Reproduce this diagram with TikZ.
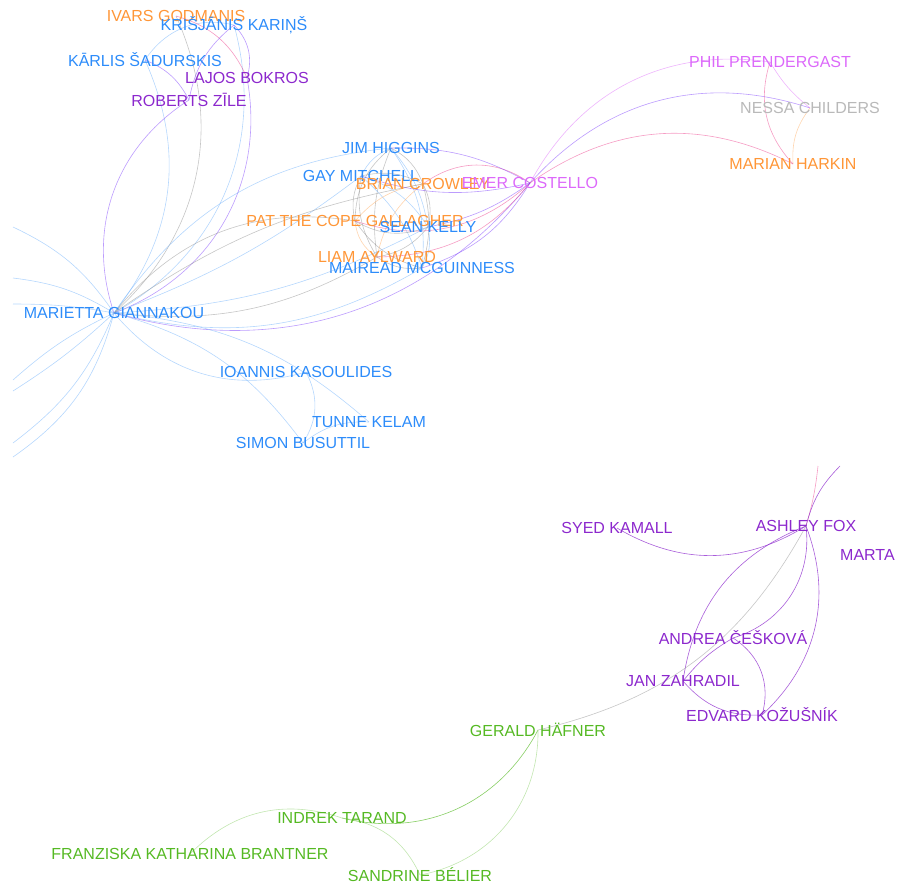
\documentclass[tikz,border=0pt]{standalone}
\usepackage{fontspec}
\setmainfont{Liberation Sans}
\pgfdeclarelayer{links}
\pgfsetlayers{links,main}

\definecolor{mepblue}{RGB}{45,140,250}
\definecolor{meporange}{RGB}{255,150,55}
\definecolor{meppurple}{RGB}{140,40,205}
\definecolor{mepviolet}{RGB}{220,105,250}
\definecolor{mepgray}{RGB}{185,185,185}
\definecolor{mepgreen}{RGB}{85,185,35}

\tikzset{
  mep/.style={inner sep=0pt, font=\fontsize{16}{18}\selectfont},
  bl/.style={mep, text=mepblue},
  or/.style={mep, text=meporange},
  pu/.style={mep, text=meppurple},
  vi/.style={mep, text=mepviolet},
  gr/.style={mep, text=mepgray},
  gn/.style={mep, text=mepgreen},
  link/.style={line width=0.6pt, opacity=0.5},
  lblue/.style={link, draw=mepblue!70},
  lgray/.style={link, draw=black!45},
  lorange/.style={link, draw=meporange!80},
  lpink/.style={link, draw=red!45!mepviolet},
  llav/.style={link, draw=blue!45!mepviolet},
  lviolet/.style={link, draw=mepviolet},
  lpurple/.style={link, draw=meppurple, opacity=0.75},
  lgreen/.style={link, draw=mepgreen, opacity=0.7},
  lgreenl/.style={link, draw=mepgreen!60, opacity=0.6}
}

\begin{document}
\begin{tikzpicture}[x=1pt, y=-1pt]
\useasboundingbox (0,0) rectangle (897,884);

\node[or] (ig) at (176,16) {IVARS GODMANIS};
\node[bl] (kk) at (234,25) {KRIŠJĀNIS KARIŅŠ};
\node[bl] (ks) at (145,60) {KĀRLIS ŠADURSKIS};
\node[pu] (lb) at (247,78) {LAJOS BOKROS};
\node[pu] (rz) at (189,100) {ROBERTS ZĪLE};

\node[bl] (jh) at (391,148) {JIM HIGGINS};
\node[bl] (gm) at (361,176) {GAY MITCHELL};
\node[or] (bc) at (423,184) {BRIAN CROWLEY};
\node[vi] (ec) at (530,183) {EMER COSTELLO};
\node[or] (pg) at (355,221) {PAT THE COPE GALLAGHER};
\node[bl] (sk) at (428,227) {SEAN KELLY};
\node[or] (la) at (377,257) {LIAM AYLWARD};
\node[bl] (mm) at (422,268) {MAIREAD MCGUINNESS};

\node[bl] (mg) at (114,313) {MARIETTA GIANNAKOU};
\node[bl] (ik) at (306,372) {IOANNIS KASOULIDES};
\node[bl] (tk) at (369,422) {TUNNE KELAM};
\node[bl] (sb) at (303,443) {SIMON BUSUTTIL};

\node[vi] (pp) at (770,62) {PHIL PRENDERGAST};
\node[gr] (nc) at (810,108) {NESSA CHILDERS};
\node[or] (mh) at (793,164) {MARIAN HARKIN};

\node[pu] (sy) at (617,528) {SYED KAMALL};
\node[pu] (af) at (806,526) {ASHLEY FOX};
\node[pu, anchor=west] (ma) at (840,555) {MARTA};
\node[pu] (ac) at (733,638) {ANDREA ČEŠKOVÁ};
\node[pu] (jz) at (683,681) {JAN ZAHRADIL};
\node[pu] (ek) at (762,715) {EDVARD KOŽUŠNÍK};

\node[gn] (gh) at (538,730) {GERALD HÄFNER};
\node[gn] (it) at (342,818) {INDREK TARAND};
\node[gn] (fb) at (190,854) {FRANZISKA KATHARINA BRANTNER};
\node[gn] (sbe) at (420,875) {SANDRINE BÉLIER};

\coordinate (w1) at (13,227);
\coordinate (w2) at (13,278);
\coordinate (w3) at (13,304);
\coordinate (w4) at (13,380);
\coordinate (w5) at (13,391);
\coordinate (w6) at (13,443);
\coordinate (w7) at (13,457);
\coordinate (up1) at (818,466);
\coordinate (up2) at (840,466);

\begin{pgfonlayer}{links}
% latvian corner
\draw[lblue] (mg.center) to[bend right=31] (ks.center);
\draw[llav] (mg.center) to[bend left=38] (rz.center);
\draw[lgray] (mg.center) to[bend right=36] (ig.center);
\draw[lblue] (mg.center) to[bend right=38] (kk.center);
\draw[llav] (mg.center) to[bend right=40] (lb.center);
\draw[lblue] (ks.center) to[bend left=35] (kk.center);
\draw[lpink] (ig.center) to[bend left=25] (lb.center);
\draw[llav] (ks.center) to[bend left=20] (rz.center);
\draw[llav] (kk.center) to[bend left=30] (lb.center);
\draw[llav] (kk.center) to[bend right=20] (rz.center);

% off the left side
\draw[lblue] (mg.center) to[bend right=15] (w1);
\draw[lblue] (mg.center) to[bend right=12] (w2);
\draw[lblue] (mg.center) to[bend right=5] (w3);
\draw[lblue] (mg.center) to[bend right=8] (w4);
\draw[lblue] (mg.center) to[bend left=5] (w5);
\draw[lblue] (mg.center) to[bend left=15] (w6);
\draw[lblue] (mg.center) to[bend left=20] (w7);

% irish group
\draw[lblue] (jh.center) to[bend right=20] (gm.center);
\draw[lgray] (jh.center) to[bend left=20] (bc.center);
\draw[lgray] (jh.center) to[bend right=25] (pg.center);
\draw[lblue] (jh.center) to[bend left=15] (sk.center);
\draw[lgray] (jh.center) to[bend right=15] (la.center);
\draw[lblue] (jh.center) to[bend left=20] (mm.center);
\draw[lgray] (gm.center) to[bend left=20] (bc.center);
\draw[lgray] (gm.center) to[bend right=20] (pg.center);
\draw[lblue] (gm.center) to[bend left=20] (sk.center);
\draw[lgray] (gm.center) to[bend right=20] (la.center);
\draw[lblue] (gm.center) to[bend left=15] (mm.center);
\draw[lorange] (bc.center) to[bend right=20] (pg.center);
\draw[lgray] (bc.center) to[bend left=20] (sk.center);
\draw[lorange] (bc.center) to[bend right=20] (la.center);
\draw[lgray] (bc.center) to[bend left=15] (mm.center);
\draw[lgray] (pg.center) to[bend right=25] (sk.center);
\draw[lorange] (pg.center) to[bend right=25] (la.center);
\draw[lgray] (pg.center) to[bend right=20] (mm.center);
\draw[lgray] (sk.center) to[bend left=20] (la.center);
\draw[lblue] (sk.center) to[bend left=20] (mm.center);
\draw[lgray] (la.center) to[bend right=20] (mm.center);

\draw[lgray] (mg.center) to[bend left=30] (pg.center);
\draw[lblue] (mg.center) to[bend left=25] (jh.center);
\draw[lblue] (mg.center) to[bend right=8] (gm.center);
\draw[lgray] (mg.center) to[bend left=12] (bc.center);
\draw[lblue] (mg.center) to[bend right=12] (sk.center);
\draw[lgray] (mg.center) to[bend right=18] (la.center);
\draw[lblue] (mg.center) to[bend right=22] (mm.center);
\draw[llav] (mg.center) to[bend right=33] (ec.center);

\draw[lpink] (bc.center) to[bend left=36] (ec.center);
\draw[lpink] (ec.center) to[bend left=30] (pg.center);
\draw[llav] (ec.center) to[bend left=15] (gm.center);
\draw[lpink] (ec.center) to[bend left=25] (la.center);
\draw[llav] (ec.center) to[bend left=20] (mm.center);
\draw[llav] (ec.center) to[bend left=12] (sk.center);
\draw[llav] (ec.center) to[bend right=15] (jh.center);

\draw[lviolet] (ec.center) to[bend left=35] (pp.center);
\draw[llav] (ec.center) to[bend left=33] (nc.center);
\draw[lpink] (ec.center) to[bend left=31] (mh.center);
\draw[lpink] (pp.center) to[bend right=30] (mh.center);
\draw[lviolet] (pp.center) to[bend right=10] (nc.center);
\draw[lorange] (nc.center) to[bend right=20] (mh.center);

% cyprus, estonia, malta
\draw[lblue] (mg.center) to[bend right=33] (ik.center);
\draw[lblue] (mg.center) to[bend left=19] (sb.center);
\draw[lblue] (mg.center) to[bend left=18] (tk.center);
\draw[lblue] (ik.center) to[bend left=30] (sb.center);
\draw[lblue] (sb.center) to[bend left=20] (tk.center);

% ecr
\draw[lpurple] (sy.center) to[bend right=31] (af.center);
\draw[lpurple] (af.center) to[bend right=30] (jz.center);
\draw[lpurple] (af.center) to[bend left=40] (ac.center);
\draw[lpurple] (af.center) to[bend left=34] (ek.center);
\draw[lpurple] (ac.center) to[bend left=37] (ek.center);
\draw[lpurple] (jz.center) to[bend right=26] (ek.center);
\draw[lpurple] (ac.center) to[bend right=10] (jz.center);
\draw[lpink] (af.center) to[bend right=5] (up1);
\draw[lpurple] (af.center) to[bend left=15] (up2);
\draw[lgray] (gh.center) to[bend right=24] (af.center);

% greens
\draw[lgreen] (gh.center) to[bend left=38] (it.center);
\draw[lgreenl] (gh.center) to[bend left=40] (sbe.center);
\draw[lgreenl] (it.center) to[bend right=32] (fb.center);
\draw[lgreenl] (it.center) to[bend left=29] (sbe.center);
\end{pgfonlayer}

\end{tikzpicture}
\end{document}
